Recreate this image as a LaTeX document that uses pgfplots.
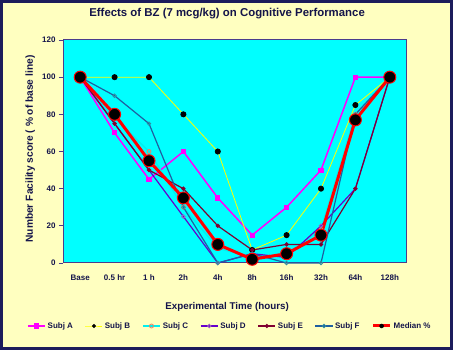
\documentclass[border=0pt]{standalone}
\usepackage{pgfplots}
\pgfplotsset{compat=1.18}
\usepackage{fontspec}
\setmainfont{Liberation Sans}
\definecolor{bgy}{HTML}{FFFFC0}
\definecolor{navy}{HTML}{1C1C5C}
\definecolor{txt}{HTML}{14144A}
\definecolor{frame}{HTML}{4B3C8C}
\definecolor{plotbg}{HTML}{00FFFF}
\definecolor{cA}{HTML}{FF00FF}
\definecolor{cB}{HTML}{FFFF00}
\definecolor{cC}{HTML}{00F0F0}
\definecolor{cCm}{HTML}{F08060}
\definecolor{cD}{HTML}{6600CC}
\definecolor{cDm}{HTML}{A060C0}
\definecolor{cE}{HTML}{800030}
\definecolor{cF}{HTML}{1F5FA0}
\definecolor{cFm}{HTML}{2F8F9F}
\definecolor{cM}{HTML}{FF0000}
\begin{document}
\begin{tikzpicture}
\useasboundingbox (0pt,0pt) rectangle (453pt,350pt);
\fill[bgy] (0pt,0pt) rectangle (453pt,350pt);
\draw[navy, line width=3pt] (1.5pt,1.5pt) rectangle (451.5pt,348.5pt);
\begin{axis}[
  at={(63pt,87pt)}, anchor=south west,
  scale only axis, width=344pt, height=223pt,
  xmin=-0.5, xmax=9.5, ymin=0, ymax=120,
  axis background/.style={fill=plotbg},
  axis line style={frame, line width=1pt},
  xtick={0,...,9},
  xticklabels={Base,0.5 hr,1 h,2h,4h,8h,16h,32h,64h,128h},
  x tick style={draw=none},
  minor xtick={-0.5,0.5,...,9.5},
  minor x tick style={frame, line width=0.8pt},
  minor tick length=4pt,
  ytick={0,20,...,120},
  y tick style={frame, line width=0.8pt},
  major tick length=4pt,
  tick align=outside,
  xtick pos=bottom, ytick pos=left,
  /pgf/number format/assume math mode=true,
  tick label style={font=\fontsize{8}{9}\selectfont\bfseries, text=txt},
  xticklabel style={yshift=-4pt},
  title={Effects of BZ (7 mcg/kg) on Cognitive Performance},
  title style={font=\fontsize{11.4}{13}\selectfont\bfseries, text=txt, at={(axis description cs:0.477,1.09)}, anchor=center},
  xlabel={Experimental Time (hours)},
  xlabel style={font=\fontsize{9.8}{11}\selectfont\bfseries, text=txt, at={(axis description cs:0.477,-0.197)}, anchor=center},
  ylabel={Number Facility score ( \% of base line)},
  ylabel style={font=\fontsize{10.2}{12}\selectfont\bfseries, text=txt, at={(axis description cs:-0.095,0.511)}, anchor=center},
  legend columns=7,
  legend style={at={(axis description cs:0.485,-0.2825)}, anchor=center, draw=none, fill=none,
    font=\fontsize{8}{9}\selectfont\bfseries, text=txt,
    /tikz/every even column/.append style={column sep=10pt}},
  legend cell align=left,
  clip=false,
]
\addplot[cA, line width=1.5pt, mark=square*, mark size=1.8pt, mark options={fill=cA}]
  coordinates {(0,100)(1,70)(2,45)(3,60)(4,35)(5,15)(6,30)(7,50)(8,100)(9,100)};
\addlegendentry{Subj A}
\addplot[cB, line width=0.8pt, mark=*, mark size=2.6pt, mark options={fill=black, draw=black},
  legend image post style={mark size=1.5pt}]
  coordinates {(0,100)(1,100)(2,100)(3,80)(4,60)(5,7)(6,15)(7,40)(8,85)(9,100)};
\addlegendentry{Subj B}
\addplot[cC, line width=1.5pt, mark=o, mark size=2pt, mark options={draw=cCm, line width=0.8pt}]
  coordinates {(0,100)(1,78)(2,60)(3,30)(4,8)(5,3)(6,5)(7,18)(8,80)(9,100)};
\addlegendentry{Subj C}
\addplot[cD, line width=1.2pt, mark=o, mark size=1.8pt, mark options={draw=cDm, line width=0.8pt}]
  coordinates {(0,100)(1,75)(2,50)(3,25)(4,0)(5,5)(6,3)(7,20)(8,40)(9,100)};
\addlegendentry{Subj D}
\addplot[cE, line width=1.2pt, mark=*, mark size=1.5pt, mark options={fill=cE}]
  coordinates {(0,100)(1,75)(2,50)(3,40)(4,20)(5,7)(6,10)(7,10)(8,40)(9,100)};
\addlegendentry{Subj E}
\addplot[cF, line width=1.2pt, mark=o, mark size=1.8pt, mark options={draw=cFm, line width=0.8pt}]
  coordinates {(0,100)(1,90)(2,75)(3,30)(4,0)(5,5)(6,0)(7,0)(8,80)(9,100)};
\addlegendentry{Subj F}
\addplot[cM, line width=3pt, mark=*, mark size=6pt, mark options={fill=black, draw=cM, line width=1pt},
  legend image post style={mark size=2pt, mark options={fill=black, draw=black, line width=0.5pt}}]
  coordinates {(0,100)(1,80)(2,55)(3,35)(4,10)(5,2)(6,5)(7,15)(8,77)(9,100)};
\addlegendentry{Median \%}
\end{axis}
\end{tikzpicture}
\end{document}
